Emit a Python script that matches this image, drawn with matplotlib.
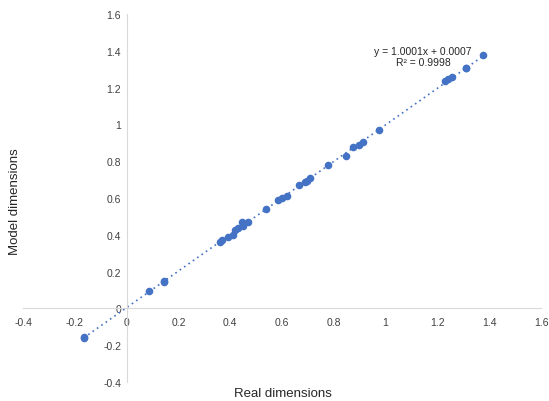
import matplotlib
matplotlib.use("Agg")
import matplotlib.pyplot as plt
import numpy as np

plt.rcParams["font.family"] = ["Liberation Sans", "DejaVu Sans"]

real = [-0.165, -0.165, 0.086, 0.144, 0.146, 0.36, 0.37, 0.39, 0.41, 0.42, 0.43, 0.445, 0.45, 0.47,
        0.54, 0.585, 0.60, 0.62, 0.666, 0.69, 0.697, 0.71, 0.778, 0.847, 0.874, 0.897, 0.913,
        0.975, 1.23, 1.24, 1.257, 1.31, 1.312, 1.376]
model = [-0.16, -0.155, 0.092, 0.145, 0.149, 0.362, 0.372, 0.39, 0.40, 0.425, 0.438, 0.467, 0.45, 0.47,
         0.54, 0.587, 0.60, 0.61, 0.668, 0.685, 0.695, 0.71, 0.777, 0.83, 0.875, 0.89, 0.907,
         0.967, 1.234, 1.245, 1.255, 1.304, 1.308, 1.375]
xticks = [-0.4, -0.2, 0, 0.2, 0.4, 0.6, 0.8, 1, 1.2, 1.4, 1.6]
yticks = [-0.4, -0.2, 0, 0.2, 0.4, 0.6, 0.8, 1, 1.2, 1.4, 1.6]
eq_text = "y = 1.0001x + 0.0007\nR² = 0.9998"

fig = plt.figure(figsize=(5.49, 4.02), dpi=100)
ax = fig.add_axes([23/549, 19/402, 518/549, 368/402])
ax.set_xlim(-0.4, 1.6)
ax.set_ylim(-0.4, 1.6)

x = np.array(real)
y = np.array(model)
k, b = np.polyfit(x, y, 1)
xl = np.array([x.min(), x.max()])
ax.plot(xl, k * xl + b, linestyle=(0, (1, 2.2)), color="#4472C4", lw=1.2, zorder=2)
ax.scatter(x, y, s=30, color="#4472C4", zorder=3, linewidths=0)

for s in ["top", "right"]:
    ax.spines[s].set_visible(False)
ax.spines["left"].set_position(("data", 0))
ax.spines["bottom"].set_position(("data", 0))
for s in ["left", "bottom"]:
    ax.spines[s].set_color("#D9D9D9")
    ax.spines[s].set_linewidth(0.8)

ax.set_xticks(xticks)
ax.set_yticks(yticks)
ax.set_xticklabels([f"{t:g}" for t in xticks])
ax.set_yticklabels([f"{t:g}" for t in yticks])
ax.tick_params(length=0, labelsize=7.5, colors="#404040", pad=6)
ax.tick_params(axis="y", pad=4)

ax.text(1.145, 1.37, eq_text, ha="center", va="center", fontsize=7.5, color="#262626",
        multialignment="center", linespacing=1.15)

fig.text(283/549, 8/402, "Real dimensions", ha="center", va="center", fontsize=9.5, color="#262626")
fig.text(15/549, 200/402, "Model dimensions", ha="center", va="center", rotation=90, fontsize=9.5, color="#262626")

fig.savefig("out.png", dpi=100)
